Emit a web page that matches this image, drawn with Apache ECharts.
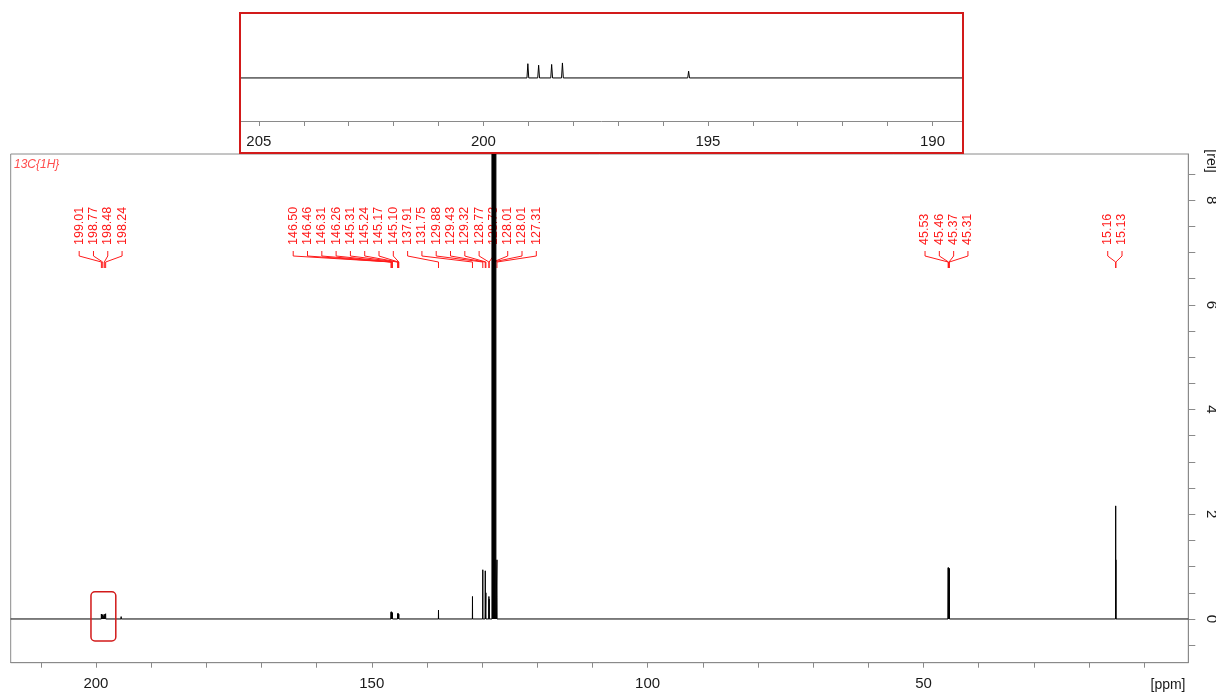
<!DOCTYPE html>
<html lang="en">
<head>
<meta charset="UTF-8">
<title>13C{1H}</title>
<script src="https://cdn.jsdelivr.net/npm/echarts@6/dist/echarts.min.js"></script>
<style>
    html, body { margin: 0; padding: 0; background: #fff; }
    #main { width: 1216px; height: 693px; }
</style>
</head>
<body>
<div id="main"></div>
<script type="text/javascript">
    // picked shifts (ppm) as printed on the plot
    var shiftLabels = ['199.01', '198.77', '198.48', '198.24',
        '146.50', '146.46', '146.31', '146.26', '145.31', '145.24', '145.17', '145.10',
        '137.91', '131.75', '129.88', '129.43', '129.32', '128.77', '128.73', '128.01', '128.01', '127.31',
        '45.53', '45.46', '45.37', '45.31',
        '15.16', '15.13'];
    // peak heights [rel], null = inside the solvent block
    var peakHeights = [0.095, 0.085, 0.09, 0.1,
        0.13, 0.14, 0.12, 0.12, 0.1, 0.11, 0.09, 0.09,
        0.17, 0.43, 0.94, 0.92, 0.5, 0.43, 0.38, null, null, 1.13,
        0.98, 0.98, 0.97, 0.96,
        2.16, 1.13];
    // how many labels in each bracket group
    var groupSizes = [4, 18, 4, 2];
    // small unlabelled peak seen in the inset
    var extraPpm = [195.43];
    var extraHeights = [0.045];
    // solvent block (ppm from, to) and its height, goes off scale
    var solventSpan = [128.22, 127.5];
    var solventHeight = 20;
    // axis ticks / labels
    var ppmTicks = [210, 200, 190, 180, 170, 160, 150, 140, 130, 120, 110, 100, 90, 80, 70, 60, 50, 40, 30, 20, 10];
    var ppmLabels = [200, 150, 100, 50];
    var relTicks = [-0.5, 0, 0.5, 1, 1.5, 2, 2.5, 3, 3.5, 4, 4.5, 5, 5.5, 6, 6.5, 7, 7.5, 8, 8.5];
    var relLabels = [0, 2, 4, 6, 8];
    var insetTicks = [190, 191, 192, 193, 194, 195, 196, 197, 198, 199, 200, 201, 202, 203, 204, 205];
    var insetLabels = [190, 195, 200, 205];
    // red box round the 198-199 peaks: [ppm from, ppm to], [rel top, rel bottom]
    var boxPpm = [200.9, 196.4];
    var boxRel = [0.52, -0.42];

    // layout
    var labelCenters = [199.15, 142.21, 45.83, 15.31]; // ppm where each label block is centred
    var labelStep = 14.3;
    var red = '#ff1a1a';
    var grey = '#8a8a8a';
    var txt = '#1a1a1a';
    var font = '"Liberation Sans", Arial, sans-serif';

    // build the stick spectrum
    var W = 0.02;
    var items = [];
    shiftLabels.forEach(function (s, i) {
        if (peakHeights[i] == null) return;
        var p = Number(s);
        items.push({p: p, seg: [[p + W, 0], [p, peakHeights[i]], [p - W, 0]]});
    });
    extraPpm.forEach(function (p, i) {
        items.push({p: p, seg: [[p + W, 0], [p, extraHeights[i]], [p - W, 0]]});
    });
    items.push({
        p: (solventSpan[0] + solventSpan[1]) / 2,
        seg: [[solventSpan[0], 0], [solventSpan[0], solventHeight], [solventSpan[1], solventHeight], [solventSpan[1], 0]]
    });
    items.sort(function (a, b) { return b.p - a.p; });
    var spec = [[215.45, 0]];
    items.forEach(function (it) { spec = spec.concat(it.seg); });
    spec.push([2.0, 0]);

    // label data: [ppm, slot offset, block centre, index]
    var labelData = [];
    var k = 0;
    groupSizes.forEach(function (n, g) {
        for (var j = 0; j < n; j++, k++) {
            labelData.push([Number(shiftLabels[k]), j - (n - 1) / 2, labelCenters[g], k]);
        }
    });

    var chart = echarts.init(document.getElementById('main'));
    var option = {
        animation: false,
        grid: [
            {left: 10.7, right: 27.7, top: 154, bottom: 30.3, show: true, borderColor: grey, borderWidth: 1, outerBoundsMode: 'none'},
            {left: 240, top: 13, width: 723, height: 108, outerBoundsMode: 'none'}
        ],
        xAxis: [
            {
                type: 'value', gridIndex: 0, inverse: true, min: 2.0, max: 215.45,
                splitLine: {show: false},
                axisLine: {onZero: false, lineStyle: {color: grey}},
                axisTick: {length: 5, lineStyle: {color: grey}, customValues: ppmTicks},
                axisLabel: {customValues: ppmLabels, color: txt, fontSize: 15, fontFamily: font, margin: 14}
            },
            {
                type: 'value', gridIndex: 1, inverse: true, min: 189.32, max: 205.42,
                splitLine: {show: false},
                axisLine: {onZero: false, lineStyle: {color: grey}},
                axisTick: {length: 5, lineStyle: {color: grey}, customValues: insetTicks},
                axisLabel: {customValues: insetLabels, color: txt, fontSize: 15, fontFamily: font, margin: 13}
            }
        ],
        yAxis: [
            {
                type: 'value', gridIndex: 0, position: 'right', min: -0.835, max: 8.88,
                splitLine: {show: false},
                axisLine: {show: true, lineStyle: {color: grey}},
                axisTick: {show: true, length: 7, lineStyle: {color: grey}, customValues: relTicks},
                axisLabel: {customValues: relLabels, rotate: -90, color: txt, fontSize: 15, fontFamily: font, margin: 15}
            },
            {type: 'value', gridIndex: 1, show: false, min: -0.287, max: 0.433}
        ],
        series: [
            {
                type: 'line', xAxisIndex: 0, yAxisIndex: 0, data: spec, z: 3,
                showSymbol: false, clip: true,
                lineStyle: {color: '#000', width: 1},
                areaStyle: {color: '#000', opacity: 1}
            },
            {
                type: 'line', xAxisIndex: 1, yAxisIndex: 1, data: spec, z: 3,
                showSymbol: false, clip: true,
                lineStyle: {color: '#000', width: 1}
            },
            {
                type: 'custom', xAxisIndex: 0, yAxisIndex: 0, data: labelData, z: 2,
                renderItem: function (params, api) {
                    var top = params.coordSys.y;
                    var px = api.coord([api.value(0), 0])[0];
                    var cx = api.coord([api.value(2), 0])[0];
                    var lx = cx + api.value(1) * labelStep;
                    return {
                        type: 'group',
                        children: [
                            {
                                type: 'text', x: lx, y: top + 91, rotation: Math.PI / 2,
                                style: {text: shiftLabels[api.value(3)], fill: red, font: '12.5px ' + font, align: 'left', verticalAlign: 'middle'}
                            },
                            {
                                type: 'polyline',
                                shape: {points: [[lx, top + 97], [lx, top + 102], [px, top + 108], [px, top + 114]]},
                                style: {stroke: red, lineWidth: 1, fill: null}
                            }
                        ]
                    };
                }
            }
        ],
        graphic: [
            {type: 'rect', shape: {x: 240, y: 13, width: 723, height: 140}, style: {fill: null, stroke: '#d21a1a', lineWidth: 2}, z: 10},
            {type: 'text', x: 14, y: 159, style: {text: '13C{1H}', fill: '#ff4d4d', font: 'italic 12px ' + font}},
            {type: 'text', x: 1211, y: 161, rotation: -Math.PI / 2, style: {text: '[rel]', fill: txt, font: '14px ' + font, align: 'center', verticalAlign: 'middle'}},
            {type: 'text', x: 1168, y: 685, style: {text: '[ppm]', fill: txt, font: '14px ' + font, align: 'center', verticalAlign: 'middle'}}
        ]
    };
    chart.setOption(option);

    // rounded red box round the carbonyl peaks
    var b1 = chart.convertToPixel({gridIndex: 0}, [boxPpm[0], boxRel[0]]);
    var b2 = chart.convertToPixel({gridIndex: 0}, [boxPpm[1], boxRel[1]]);
    chart.setOption({
        graphic: option.graphic.concat([{
            type: 'rect', shape: {x: b1[0], y: b1[1], width: b2[0] - b1[0], height: b2[1] - b1[1], r: 4},
            style: {fill: null, stroke: '#d21a1a', lineWidth: 1.5}, z: 10
        }])
    });
</script>
</body>
</html>
